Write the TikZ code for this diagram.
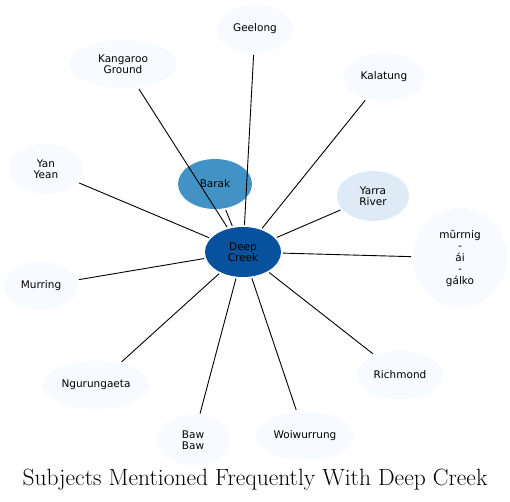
\documentclass[tikz,border=0pt]{standalone}
\usepackage{fontspec}
\newfontfamily\labelfont{DejaVu Sans}
\usetikzlibrary{shapes.geometric}
\definecolor{deepblue}{HTML}{08519C}
\definecolor{midblue}{HTML}{4292C6}
\definecolor{lightblue}{HTML}{DEEBF7}
\definecolor{paleblue}{HTML}{F7FBFF}
\begin{document}
\begin{tikzpicture}[x=1pt,y=-1pt,
    place/.style={ellipse,fill=#1,inner sep=0pt,outer sep=2pt,align=center,
      font=\labelfont\fontsize{10.5}{11.5}\selectfont},
    place/.default=paleblue]
  \useasboundingbox (0,0) rectangle (510,501);
  % the centre and its two closest subjects
  \node[place=deepblue,minimum width=76,minimum height=50] (creek) at (243,252) {Deep\\Creek};
  \node[place=midblue,minimum width=74,minimum height=50] (barak) at (215,184) {Barak};
  \node[place=lightblue,minimum width=72,minimum height=50] (yarra) at (373,196) {Yarra\\River};
  % the rest, all pale
  \node[place,minimum width=77,minimum height=48] (geelong) at (255,29) {Geelong};
  \node[place,minimum width=108,minimum height=48] (kangaroo) at (123,64) {Kangaroo\\Ground};
  \node[place,minimum width=82,minimum height=48] (kalatung) at (384,77) {Kalatung};
  \node[place,minimum width=74,minimum height=50] (yanyean) at (46,169) {Yan\\Yean};
  \node[place,minimum width=94,minimum height=100] (murrnig) at (460,258) {mŭrrnig\\-\\ái\\-\\gálko};
  \node[place,minimum width=74,minimum height=48] (murring) at (41,286) {Murring};
  \node[place,minimum width=87,minimum height=49] (richmond) at (400,375) {Richmond};
  \node[place,minimum width=108,minimum height=48] (ngurungaeta) at (96,385) {Ngurungaeta};
  \node[place,minimum width=74,minimum height=50] (bawbaw) at (193,440) {Baw\\Baw};
  \node[place,minimum width=98,minimum height=49] (woiwurrung) at (305,436) {Woiwurrung};
  % edges
  \foreach \n in {barak,yarra,geelong,kangaroo,kalatung,yanyean,murrnig,murring,
                  richmond,ngurungaeta,bawbaw,woiwurrung}
    \draw[line width=0.9pt] (creek) -- (\n);
  \node (title) at (255,480) {\fontsize{23.5}{28}\selectfont Subjects Mentioned Frequently With Deep Creek};
\end{tikzpicture}
\end{document}
